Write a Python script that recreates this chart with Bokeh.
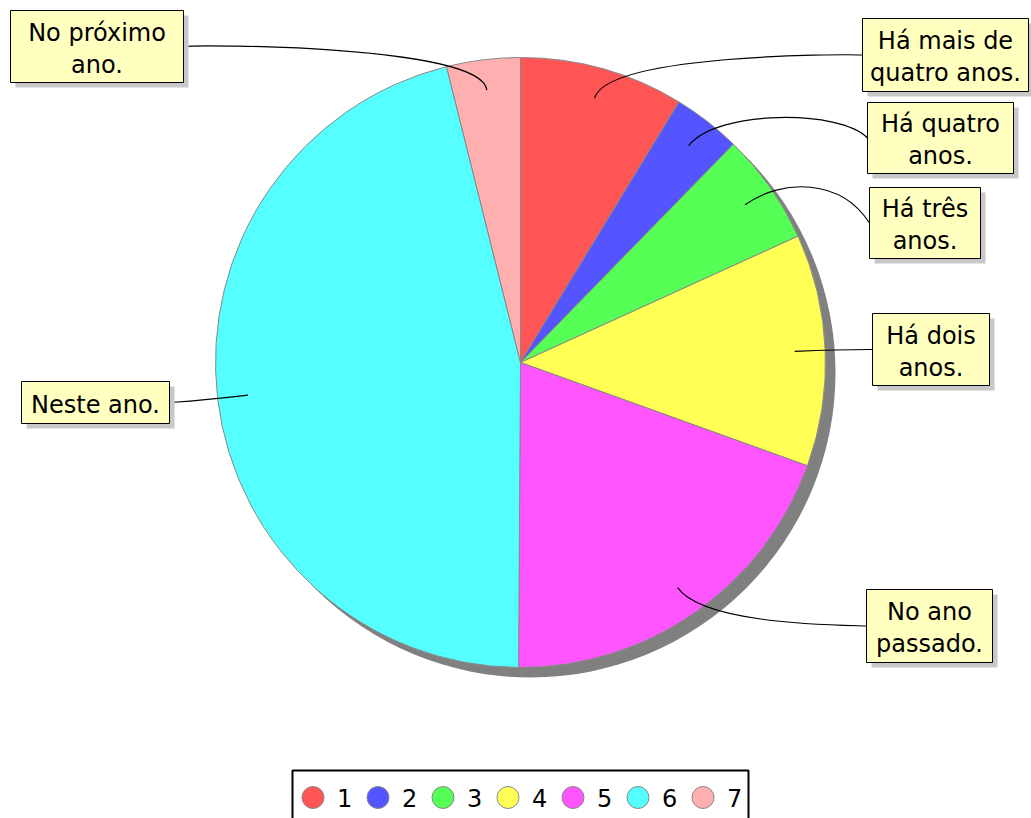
import math
from bokeh.plotting import figure
from bokeh.models import Range1d, ColumnDataSource
from bokeh.embed import file_html
from bokeh.resources import INLINE
from bokeh.core.properties import value

# ---------------- data ----------------
categories = ["1", "2", "3", "4", "5", "6", "7"]
labels = ["Há mais de\nquatro anos.", "Há quatro\nanos.", "Há três\nanos.",
          "Há dois\nanos.", "No ano\npassado.", "Neste ano.", "No próximo\nano."]
shares = [8.7, 3.6, 5.9, 12.3, 19.6, 46.0, 3.9]
colors = ["#FF5555", "#5555FF", "#55FF55", "#FFFF55", "#FF55FF", "#55FFFF", "#FFAFAF"]

# ---------------- layout (pixels) ----------------
W, H = 1031, 818


def Y(y):
    return H - y


CX, CY, R = 520, Y(362), 305
SHADOW = 10
# label boxes: left, top, right, bottom (px from top-left)
boxes = [(862, 18, 1028, 91), (867, 102, 1013, 173), (869, 187, 980, 258),
         (872, 313, 989, 385), (866, 589, 992, 662), (21, 381, 169, 423),
         (10, 10, 183, 82)]
FONT = value("DejaVu Sans")

p = figure(width=W, height=H, output_backend="svg", toolbar_location=None,
           x_range=Range1d(0, W), y_range=Range1d(0, H),
           min_border=0, outline_line_color=None)
p.axis.visible = False
p.grid.visible = False
p.background_fill_color = "white"
p.border_fill_color = "white"

# pie shadow
p.circle(x=[CX + SHADOW], y=[CY - SHADOW], radius=R, fill_color="#808080",
         line_color=None)

# wedges
total = sum(shares)
starts, ends, mids = [], [], []
cum = 0.0
for s in shares:
    a0 = math.pi / 2 - 2 * math.pi * cum / total
    cum += s
    a1 = math.pi / 2 - 2 * math.pi * cum / total
    starts.append(a0)
    ends.append(a1)
    mids.append((a0 + a1) / 2)

src = ColumnDataSource(dict(start=starts, end=ends, color=colors, cat=categories))
p.wedge(x=CX, y=CY, radius=R, start_angle="start", end_angle="end",
        direction="clock", fill_color="color", line_color="#888888",
        line_width=1, source=src)

# label links (cubic curves)
x0s, y0s, x1s, y1s, c0x, c0y, c1x, c1y = [], [], [], [], [], [], [], []
for m, b in zip(mids, boxes):
    ax = CX + 0.9 * R * math.cos(m)
    ay = CY + 0.9 * R * math.sin(m)
    ex = CX + 1.05 * R * math.cos(m)
    ey = CY + 1.05 * R * math.sin(m)
    right = math.cos(m) > 0
    tx = b[0] if right else b[2]
    ty = Y((b[1] + b[3]) / 2)
    px = CX + 1.05 * R if right else CX - 1.05 * R
    x0s.append(ax); y0s.append(ay)
    c0x.append(ex); c0y.append(ey)
    c1x.append(px); c1y.append(ey)
    x1s.append(tx); y1s.append(ty)
p.bezier(x0=x0s, y0=y0s, x1=x1s, y1=y1s, cx0=c0x, cy0=c0y, cx1=c1x, cy1=c1y,
         line_color="black", line_width=1.2)

# label boxes
p.quad(left=[b[0] + 5 for b in boxes], right=[b[2] + 5 for b in boxes],
       top=[Y(b[1] + 5) for b in boxes], bottom=[Y(b[3] + 5) for b in boxes],
       fill_color="#C8C8C8", line_color=None)
p.quad(left=[b[0] for b in boxes], right=[b[2] for b in boxes],
       top=[Y(b[1]) for b in boxes], bottom=[Y(b[3]) for b in boxes],
       fill_color="#FFFFC0", line_color="black", line_width=1)

tx, ty, tt = [], [], []
for lab, b in zip(labels, boxes):
    lines = lab.split("\n")
    n = len(lines)
    cx = (b[0] + b[2]) / 2
    cy = (b[1] + b[3]) / 2
    for i, ln in enumerate(lines):
        tx.append(cx)
        ty.append(Y(cy + (i - (n - 1) / 2) * 32 + 2))
        tt.append(ln)
p.text(x=tx, y=ty, text=tt, text_align="center", text_baseline="middle",
       text_font=FONT, text_font_size="24px", text_color="black")

# legend
LX0, LDX, LY = 312.5, 65, Y(797)
p.quad(left=[292], right=[748], top=[Y(770)], bottom=[Y(840)],
       fill_color=None, line_color="black", line_width=2)
lx = [LX0 + LDX * i for i in range(len(categories))]
p.scatter(x=lx, y=[LY] * len(lx), size=22, marker="circle",
          fill_color=colors, line_color="#888888", line_width=1)
p.text(x=[v + 24 for v in lx], y=[LY] * len(lx), text=categories,
       text_align="left", text_baseline="middle", text_font=FONT,
       text_font_size="24px", text_color="black")

open("out.html", "w").write(file_html(p, INLINE))
